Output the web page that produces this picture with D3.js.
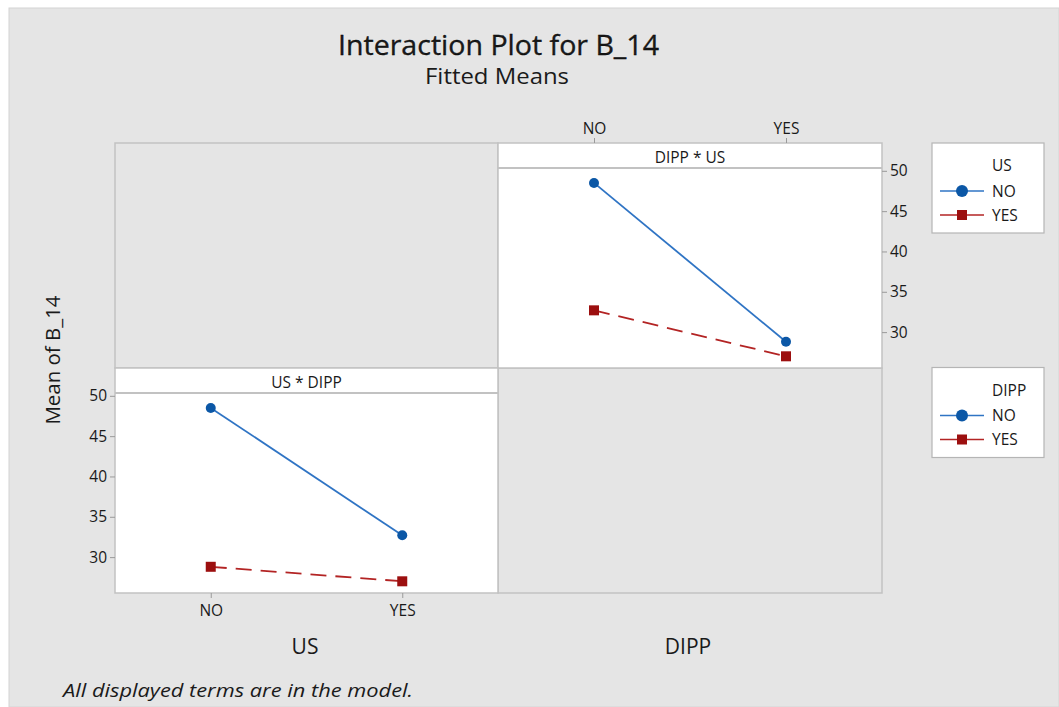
<!DOCTYPE html>
<html><head><meta charset="utf-8">
<script src="https://cdn.jsdelivr.net/npm/d3@7"></script>
<style>
html,body{margin:0;padding:0;background:#fff;}
svg{display:block;}
text{font-family:"Open Sans","Noto Sans",sans-serif;fill:#1a1a1a;}
</style></head>
<body>
<script>
// ---- data ----
const levels = ["NO", "YES"];
const yTicks = [30, 35, 40, 45, 50];
// bottom-left panel: x = US, lines by DIPP
const dippNoOverUS = [48.5, 32.7];
const dippYesOverUS = [28.8, 27.0];
// top-right panel: x = DIPP, lines by US
const usNoOverDIPP = [48.5, 28.8];
const usYesOverDIPP = [32.7, 27.0];

const W = 1059, H = 707;
const svg = d3.select("body").append("svg").attr("width", W).attr("height", H);

// background
svg.append("rect").attr("x", 9).attr("y", 8).attr("width", W - 9).attr("height", H - 8)
  .attr("fill", "#e5e5e5").attr("stroke", "#d4d4d4").attr("stroke-width", 1);

const BLUE_L = "#2f74c4", BLUE_M = "#0b57a6", RED_L = "#b32424", RED_M = "#9c0f0f";
const GRID = "#c2c2c2";

function squeeze(sel, w) {
  sel.attr("textLength", w).attr("lengthAdjust", "spacingAndGlyphs");
}

// titles
const t1 = svg.append("text").attr("x", 498.5).attr("y", 55).attr("text-anchor", "middle")
  .attr("font-size", 28).attr("fill", "#000").attr("stroke", "#000").attr("stroke-width", 0.3)
  .text("Interaction Plot for B_14");
squeeze(t1, 321);
const t2 = svg.append("text").attr("x", 497).attr("y", 84).attr("text-anchor", "middle")
  .attr("font-size", 21).attr("fill", "#000").text("Fitted Means");
squeeze(t2, 144);

// matrix geometry
const X0 = 115, XM = 498, X1 = 882, Y0 = 143, YM = 368, Y1 = 593;
const STRIP = 25;
const yDomain = [25.55, 53.45];

// grey cells
svg.append("rect").attr("x", X0).attr("y", Y0).attr("width", XM - X0).attr("height", YM - Y0)
  .attr("fill", "#e5e5e5").attr("stroke", GRID).attr("stroke-width", 1.5);
svg.append("rect").attr("x", XM).attr("y", YM).attr("width", X1 - XM).attr("height", Y1 - YM)
  .attr("fill", "#e5e5e5").attr("stroke", GRID).attr("stroke-width", 1.5);

function styleAxis(a) {
  a.select(".domain").remove();
  a.selectAll("line").attr("stroke", "#9a9a9a");
  a.selectAll("text").attr("font-size", 15.5).attr("fill", "#1a1a1a")
    .style("font-family", '"Open Sans",sans-serif');
}

function panel(x0, x1, y0, y1, stripLabel, lineNo, lineYes, axisSide) {
  const g = svg.append("g");
  g.append("rect").attr("x", x0).attr("y", y0).attr("width", x1 - x0).attr("height", y1 - y0)
    .attr("fill", "#fff").attr("stroke", GRID).attr("stroke-width", 1.5);
  g.append("line").attr("x1", x0).attr("x2", x1).attr("y1", y0 + STRIP).attr("y2", y0 + STRIP)
    .attr("stroke", GRID).attr("stroke-width", 2);
  g.append("text").attr("x", (x0 + x1) / 2).attr("y", y0 + 20).attr("text-anchor", "middle")
    .attr("font-size", 15.5).text(stripLabel);

  const x = d3.scalePoint().domain(levels).range([x0, x1]).padding(0.5);
  const y = d3.scaleLinear().domain(yDomain).range([y1, y0]);

  if (axisSide === "bottomleft") {
    styleAxis(g.append("g").attr("transform", `translate(${x0},0)`)
      .call(d3.axisLeft(y).tickValues(yTicks).tickSize(5).tickPadding(3)));
    styleAxis(g.append("g").attr("transform", `translate(0,${y1})`)
      .call(d3.axisBottom(x).tickSize(5).tickPadding(7)));
  } else {
    styleAxis(g.append("g").attr("transform", `translate(${x1},0)`)
      .call(d3.axisRight(y).tickValues(yTicks).tickSize(5).tickPadding(3)));
    styleAxis(g.append("g").attr("transform", `translate(0,${y0})`)
      .call(d3.axisTop(x).tickSize(5).tickPadding(4)));
  }

  const line = d3.line().x((d, i) => x(levels[i])).y(d => y(d));
  g.append("path").datum(lineNo).attr("d", line).attr("fill", "none")
    .attr("stroke", BLUE_L).attr("stroke-width", 1.8);
  g.append("path").datum(lineYes).attr("d", line).attr("fill", "none")
    .attr("stroke", RED_L).attr("stroke-width", 1.8).attr("stroke-dasharray", "16,9");
  g.selectAll(".cNo").data(lineNo).enter().append("circle")
    .attr("cx", (d, i) => x(levels[i])).attr("cy", d => y(d)).attr("r", 5).attr("fill", BLUE_M);
  g.selectAll(".sYes").data(lineYes).enter().append("rect")
    .attr("x", (d, i) => x(levels[i]) - 5).attr("y", d => y(d) - 5)
    .attr("width", 10).attr("height", 10).attr("fill", RED_M);
}

panel(XM, X1, Y0, YM, "DIPP * US", usNoOverDIPP, usYesOverDIPP, "topright");
panel(X0, XM, YM, Y1, "US * DIPP", dippNoOverUS, dippYesOverUS, "bottomleft");

// axis titles
svg.append("text").attr("x", 305).attr("y", 654).attr("text-anchor", "middle")
  .attr("font-size", 21).text("US");
svg.append("text").attr("x", 688).attr("y", 654).attr("text-anchor", "middle")
  .attr("font-size", 21).text("DIPP");
const yl = svg.append("text").attr("transform", "translate(60,360) rotate(-90)")
  .attr("text-anchor", "middle").attr("font-size", 20).text("Mean of B_14");
squeeze(yl, 129);

// legends
function legend(y0, title) {
  const g = svg.append("g");
  g.append("rect").attr("x", 932).attr("y", y0).attr("width", 112).attr("height", 90)
    .attr("fill", "#fff").attr("stroke", "#b5b5b5").attr("stroke-width", 1.2);
  g.append("text").attr("x", 992).attr("y", y0 + 28).attr("font-size", 15.5).text(title);
  const rows = [{lab: levels[0], c: BLUE_L, m: BLUE_M, shape: "circle"},
                {lab: levels[1], c: RED_L, m: RED_M, shape: "square"}];
  rows.forEach((r, i) => {
    const yy = y0 + 48 + i * 24;
    g.append("line").attr("x1", 940).attr("x2", 984).attr("y1", yy).attr("y2", yy)
      .attr("stroke", r.c).attr("stroke-width", 1.6);
    if (r.shape === "circle") {
      g.append("circle").attr("cx", 962).attr("cy", yy).attr("r", 6).attr("fill", r.m);
    } else {
      g.append("rect").attr("x", 957).attr("y", yy - 5).attr("width", 10).attr("height", 10).attr("fill", r.m);
    }
    g.append("text").attr("x", 992).attr("y", yy + 5.5).attr("font-size", 15.5).text(r.lab);
  });
}
legend(143, "US");
legend(367.5, "DIPP");

// footer
const ft = svg.append("text").attr("x", 63).attr("y", 697).attr("font-size", 19)
  .attr("font-style", "italic").text("All displayed terms are in the model.");
squeeze(ft, 350);
</script>
</body></html>
